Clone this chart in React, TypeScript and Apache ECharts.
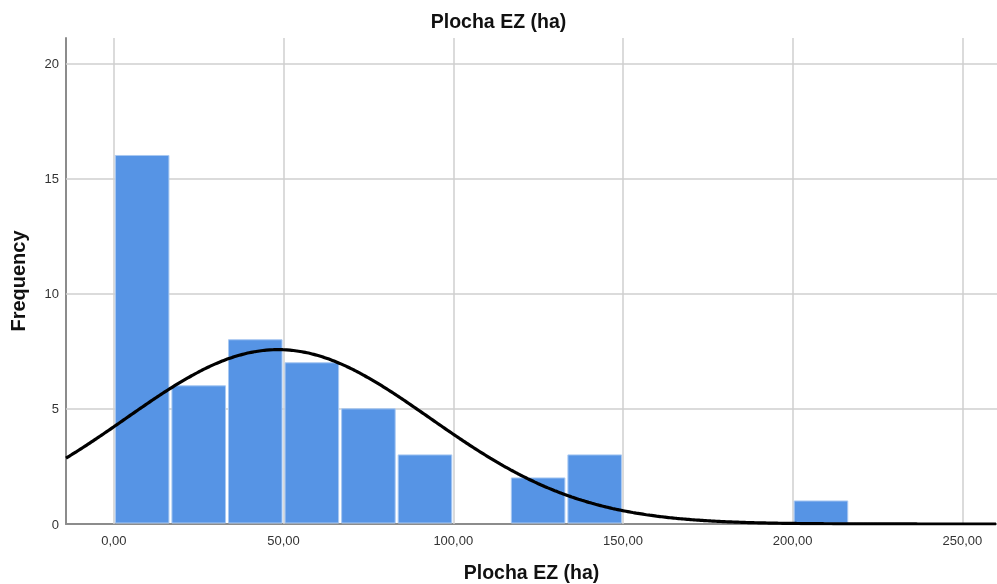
import React, { useEffect, useRef } from "react";
import * as echarts from "echarts";

// Histogram bins (lower edge, upper edge) and their counts
const binWidth = 50 / 3;
const binCounts = [16, 6, 8, 7, 5, 3, 0, 2, 3, 0, 0, 0, 1];
const xTicks = [0, 50, 100, 150, 200, 250];
const yTicks = [0, 5, 10, 15, 20];

// Fitted normal curve parameters
const fitMean = 48.4;
const fitSd = 44.8;
const sampleN = 51;

const xMin = -14.1;
const xMax = 260.2;
const yMax = 21.1;

const fmt = (v: number) => v.toFixed(2).replace(".", ",");

export default function App() {
  const ref = useRef<HTMLDivElement>(null);

  useEffect(() => {
    document.body.style.margin = "0";
    document.body.style.overflow = "hidden";
    if (!ref.current) return;
    const chart = echarts.init(ref.current, undefined, { renderer: "svg" });

    const bins = binCounts
      .map((c, i) => [i * binWidth, (i + 1) * binWidth, c])
      .filter((b) => b[2] > 0);

    // normal density scaled to counts per bin
    const curve: number[][] = [];
    const scale = (sampleN * binWidth) / (fitSd * Math.sqrt(2 * Math.PI));
    for (let x = xMin; x <= xMax + 0.5; x += 1) {
      const z = (x - fitMean) / fitSd;
      curve.push([x, scale * Math.exp(-0.5 * z * z)]);
    }

    const font = "'Liberation Sans', Arial, sans-serif";

    chart.setOption({
      animation: false,
      title: {
        text: "Plocha EZ (ha)",
        left: "center",
        top: 6,
        textStyle: { fontFamily: font, fontSize: 19.5, fontWeight: "bold", color: "#111" },
      },
      grid: { left: 66, right: 0, top: 38, bottom: 60, outerBoundsMode: "none" },
      xAxis: {
        type: "value",
        min: xMin,
        max: xMax,
        name: "Plocha EZ (ha)",
        nameLocation: "middle",
        nameGap: 38,
        nameTextStyle: { fontFamily: font, fontSize: 19.5, fontWeight: "bold", color: "#111" },
        axisLine: { show: true, lineStyle: { color: "#8c8c8c", width: 2 } },
        axisTick: { show: false },
        splitLine: { show: false },
        axisLabel: {
          customValues: xTicks,
          formatter: (v: number) => fmt(v),
          fontFamily: font,
          fontSize: 13,
          color: "#333",
          margin: 10,
        },
      },
      yAxis: {
        type: "value",
        min: 0,
        max: yMax,
        name: "Frequency",
        nameLocation: "middle",
        nameGap: 38,
        nameTextStyle: { fontFamily: font, fontSize: 20, fontWeight: "bold", color: "#111" },
        axisLine: { show: true, onZero: false, lineStyle: { color: "#8c8c8c", width: 2 } },
        axisTick: { show: false },
        splitLine: { show: false },
        axisLabel: {
          customValues: yTicks,
          formatter: (v: number) => String(v),
          fontFamily: font,
          fontSize: 13,
          color: "#333",
          margin: 7,
        },
      },
      series: [
        {
          type: "line",
          data: [],
          z: 1,
          silent: true,
          markLine: {
            silent: true,
            symbol: "none",
            z: 1,
            label: { show: false },
            lineStyle: { color: "#cfcfcf", width: 1.5, type: "solid" },
            data: [
              ...xTicks.map((v) => ({ xAxis: v })),
              ...yTicks.filter((v) => v > 0).map((v) => ({ yAxis: v })),
            ],
          },
        },
        {
          type: "custom",
          z: 10,
          data: bins,
          encode: { x: [0, 1], y: 2 },
          renderItem: (_params: any, api: any) => {
            const s = api.coord([api.value(0), 0]);
            const e = api.coord([api.value(1), api.value(2)]);
            return {
              type: "rect",
              shape: { x: s[0] + 1.5, y: e[1], width: e[0] - s[0] - 3, height: s[1] - e[1] - 1 },
              style: { fill: "#5694e5", stroke: "#a9c9f2", lineWidth: 1 },
            };
          },
        },
        {
          type: "line",
          z: 12,
          data: curve,
          showSymbol: false,
          smooth: true,
          lineStyle: { color: "#000", width: 3.2 },
          silent: true,
        },
      ],
    });

    return () => chart.dispose();
  }, []);

  return (
    <div
      ref={ref}
      style={{ position: "fixed", left: 0, top: 0, width: 997, height: 584 }}
    />
  );
}
